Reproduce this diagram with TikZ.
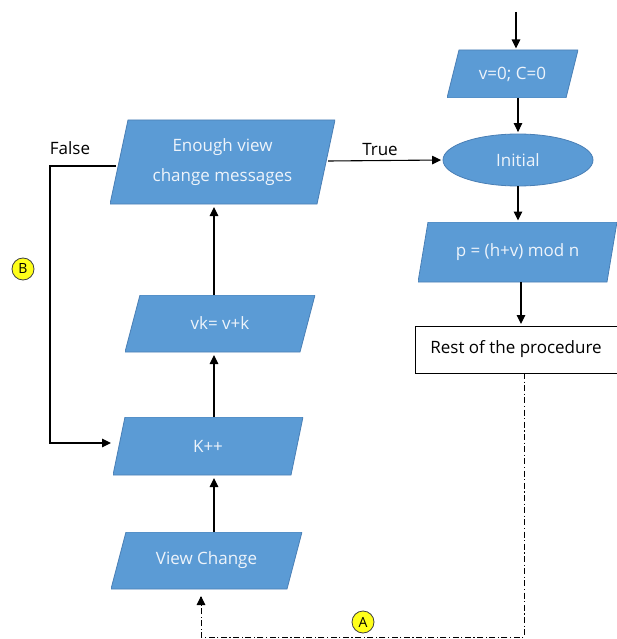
\documentclass[tikz,border=0pt]{standalone}
\usepackage{fontspec}
\setmainfont{Open Sans}
\usetikzlibrary{arrows.meta,shapes.geometric,calc}

\definecolor{boxblue}{HTML}{5B9BD5}
\definecolor{boxedge}{HTML}{4A7FB5}
\definecolor{boxtext}{HTML}{EEF4FB}
\definecolor{markyellow}{HTML}{FFFF1A}

\tikzset{
  boxslant/.store in=\boxslant, boxslant=12pt,
  % input/output parallelogram drawn inside a rectangular node
  iobox/.style={shape=rectangle, inner sep=0pt, outer sep=0pt,
    text=boxtext, align=center, font=\fontsize{17}{30}\selectfont,
    path picture={
      \fill[boxblue, draw=boxedge, line width=0.8pt]
        ([xshift=\boxslant]path picture bounding box.north west) --
        (path picture bounding box.north east) --
        ([xshift=-\boxslant]path picture bounding box.south east) --
        (path picture bounding box.south west) -- cycle;
    }},
  startnode/.style={ellipse, fill=boxblue, draw=boxedge, line width=0.8pt,
    inner sep=0pt, text=boxtext, font=\fontsize{17}{20}\selectfont},
  plainbox/.style={rectangle, draw=black, line width=1pt, fill=white,
    inner sep=0pt, font=\fontsize{17}{20}\selectfont},
  flow/.style={draw=black, line width=1.1pt, shorten >=1.5pt,
    -{Triangle[length=9pt,width=8.5pt]}},
  dashdot/.style={draw=black, line width=1pt,
    dash pattern=on 6pt off 2.5pt on 1.2pt off 2.5pt},
  marker/.style={circle, fill=markyellow, draw=black!75, line width=0.8pt,
    minimum size=22pt, inner sep=0pt, font=\fontsize{14}{14}\selectfont},
  tag/.style={font=\fontsize{17}{20}\selectfont, inner sep=0pt},
}

\begin{document}
\begin{tikzpicture}[x=1pt, y=-1pt]
  \useasboundingbox (0,0) rectangle (616,639);

  % right column: initialisation
  \coordinate (entry) at (516,12);
  \node[iobox, boxslant=12pt, minimum width=131pt, minimum height=48pt]
    (vinit) at (512.5,74) {v=0; C=0};
  \node[startnode, minimum width=150pt, minimum height=52pt]
    (init) at (518,160) {Initial};
  \node[iobox, boxslant=10pt, minimum width=199pt, minimum height=60pt]
    (primary) at (517.5,252) {p = (h+v) mod n};
  \node[plainbox, minimum width=202pt, minimum height=47pt]
    (rest) at (516,349.5) {Rest of the procedure};

  % left column: view change loop
  \node[iobox, boxslant=18pt, minimum width=225pt, minimum height=84pt]
    (enough) at (222.5,162) {Enough view\\change messages};
  \node[iobox, boxslant=15pt, minimum width=190pt, minimum height=57pt]
    (vk) at (220,323.5) {vk= v+k};
  \node[iobox, boxslant=12pt, minimum width=190pt, minimum height=58pt]
    (kinc) at (208,446) {K++};
  \node[iobox, boxslant=15pt, minimum width=191pt, minimum height=57pt]
    (vchange) at (206.5,560.5) {View Change};

  % helper coordinates for the connectors
  \coordinate (colx) at (214,0);
  \coordinate (falseout) at (116,166);
  \coordinate (falsecorner) at (50,166);
  \coordinate (falsedown) at (50,443);
  \coordinate (kin) at (111,443);
  \coordinate (trueout) at (328,161);
  \coordinate (restout) at (524,373);
  \coordinate (loopcorner) at (524,637);
  \coordinate (loopleft) at (201,637);
  \coordinate (vcin) at (201,597);

  % right column connectors
  \draw[flow] (entry) -- (entry |- vinit.north);
  \draw[flow] (vinit.south -| init) -- (init.north);
  \draw[flow] (init.south) -- (init.south |- primary.north);
  \draw[flow] (primary.south -| 521,0) -- (rest.north -| 521,0);

  % left column connectors
  \draw[flow, shorten >=3pt] (vchange.north -| colx) -- (kinc.south -| colx);
  \draw[flow, shorten >=3pt] (kinc.north -| colx) -- (vk.south -| colx);
  \draw[flow, shorten >=3pt] (vk.north -| colx) -- (enough.south -| colx);

  % decision branches
  \draw[flow] (trueout) -- (init.west);
  \node[tag] (truelbl) at (380,150) {True};
  \draw[flow, shorten >=0pt] (falseout) -- (falsecorner) -- (falsedown) -- (kin);
  \node[tag] (falselbl) at (70,148) {False};

  % return path after the procedure
  \draw[dashdot] (restout) -- (loopcorner) -- (loopleft) -- (vcin);
  \draw[flow, shorten >=0pt] (vcin) -- ([yshift=1pt]vcin);

  % connector markers
  \node[marker] (markA) at (363,622) {A};
  \node[marker] (markB) at (23,269) {B};
\end{tikzpicture}
\end{document}
